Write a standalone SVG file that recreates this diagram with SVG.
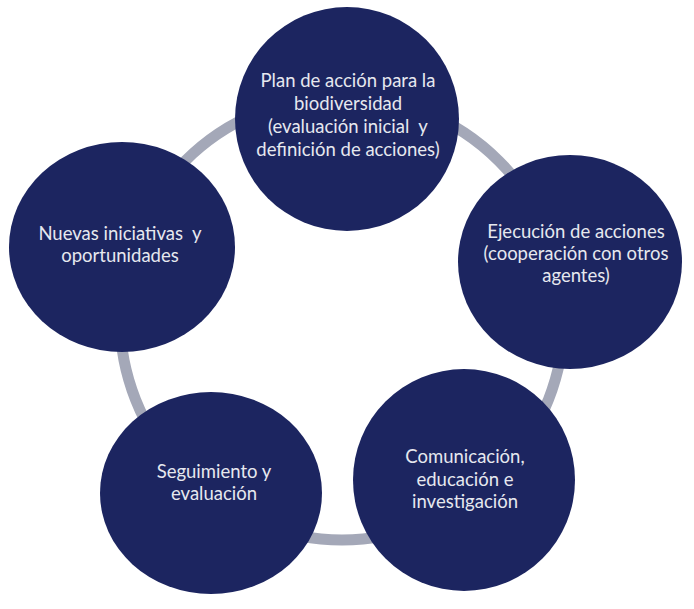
<svg xmlns="http://www.w3.org/2000/svg" width="694" height="609" viewBox="0 0 694 609">
<style>
.node{fill:#1c2560}
.lbl{font-family:Lato,"Open Sans","Liberation Sans",sans-serif;font-size:18.5px;fill:#e6e8ef;text-anchor:middle;white-space:pre}
.ring{fill:none;stroke:#a4a8b8;stroke-width:11}
</style>
<rect width="694" height="609" fill="#ffffff"/>
<g id="connectors">
<circle class="ring" cx="342" cy="318" r="222"/>
</g>
<g id="node-plan">
<circle class="node" cx="347" cy="119" r="112"/>
<text class="lbl" x="348" y="87">Plan de acción para la</text>
<text class="lbl" x="348" y="110">biodiversidad</text>
<text class="lbl" x="348" y="133">(evaluación inicial  y</text>
<text class="lbl" x="348" y="156">definición de acciones)</text>
</g>
<g id="node-ejecucion">
<ellipse class="node" cx="570" cy="262" rx="112" ry="107"/>
<text class="lbl" x="576" y="238">Ejecución de acciones</text>
<text class="lbl" x="576" y="260">(cooperación con otros</text>
<text class="lbl" x="576" y="282">agentes)</text>
</g>
<g id="node-comunicacion">
<circle class="node" cx="464" cy="480" r="111"/>
<text class="lbl" x="465" y="463">Comunicación,</text>
<text class="lbl" x="465" y="486">educación e</text>
<text class="lbl" x="465" y="508">investigación</text>
</g>
<g id="node-seguimiento">
<ellipse class="node" cx="211" cy="493" rx="111" ry="101"/>
<text class="lbl" x="214" y="478">Seguimiento y</text>
<text class="lbl" x="214" y="500">evaluación</text>
</g>
<g id="node-nuevas">
<ellipse class="node" cx="122" cy="247" rx="113" ry="105"/>
<text class="lbl" x="120" y="240">Nuevas iniciativas  y</text>
<text class="lbl" x="120" y="262">oportunidades</text>
</g>
</svg>
